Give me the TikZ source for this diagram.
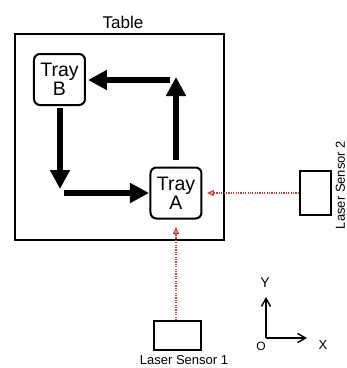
\documentclass[tikz,border=0pt]{standalone}
\usepackage{fontspec}
\setmainfont{Liberation Sans}
\usetikzlibrary{arrows.meta}
\definecolor{laserred}{RGB}{196,62,52}
\begin{document}
\begin{tikzpicture}[x=1pt,y=-1pt,
  tray/.style={draw, line width=2pt, rounded corners=6pt, minimum width=51pt, minimum height=51pt, inner sep=0pt, align=center, font=\fontsize{19.5}{19}\selectfont},
  bigarrow/.style={line width=6pt, -{Triangle[length=19pt,width=19pt]}},
  laser/.style={laserred, line width=2pt, dash pattern=on 1.2pt off 1.2pt, -{Triangle[open,length=7pt,width=6pt,line width=1.3pt]}},
  sensorbox/.style={draw, line width=1.8pt, inner sep=0pt},
  axis/.style={line width=1.4pt, -{Straight Barb[length=8pt,width=9pt,line width=1.4pt]}}
]
\useasboundingbox (0,0) rectangle (347,368);
\node[draw, line width=2pt, minimum width=209pt, minimum height=206pt, inner sep=0pt] (table) at (119.5,137) {};
\node[font=\fontsize{17}{17}\selectfont] (tablelabel) at (123,22) {Table};
\node[tray] (trayB) at (59.5,79.5) {Tray\\B};
\node[tray] (trayA) at (176,193) {Tray\\A};
% thick cycle arrows
\coordinate (upS) at (176,160); \coordinate (upE) at (176,77);
\coordinate (lfS) at (170,80);  \coordinate (lfE) at (88,80);
\coordinate (dnS) at (60,108);  \coordinate (dnE) at (60,189);
\coordinate (rtS) at (64,193);  \coordinate (rtE) at (149,193);
\draw[bigarrow] (upS) -- (upE);
\draw[bigarrow] (lfS) -- (lfE);
\draw[bigarrow] (dnS) -- (dnE);
\draw[bigarrow] (rtS) -- (rtE);
% sensors
\node[sensorbox, minimum width=31pt, minimum height=44pt] (sensor2) at (315.5,193) {};
\node[rotate=90, font=\fontsize{13}{13}\selectfont, inner sep=0pt] (s2label) at (340.5,185) {Laser Sensor 2};
\node[sensorbox, minimum width=47pt, minimum height=29pt] (sensor1) at (177.5,335.5) {};
\node[font=\fontsize{13}{13}\selectfont, inner sep=0pt] (s1label) at (184,360) {Laser Sensor 1};
\coordinate (tipS2) at (207,193);
\coordinate (tipS1) at (176,227);
\draw[laser] (sensor2.west) -- (tipS2);
\draw[laser] (tipS1 |- sensor1.north) -- (tipS1);
% axes
\coordinate (origin) at (266,338);
\coordinate (yend) at (266,297);
\coordinate (xend) at (307,338);
\draw[axis] (origin) -- (yend);
\draw[axis] (origin) -- (xend);
\node[font=\fontsize{14}{14}\selectfont] (ylabel) at (265,283) {Y};
\node[font=\fontsize{13}{13}\selectfont] (xlabel) at (323,345) {X};
\node[font=\fontsize{12}{12}\selectfont] (olabel) at (261,346) {O};
\end{tikzpicture}
\end{document}
